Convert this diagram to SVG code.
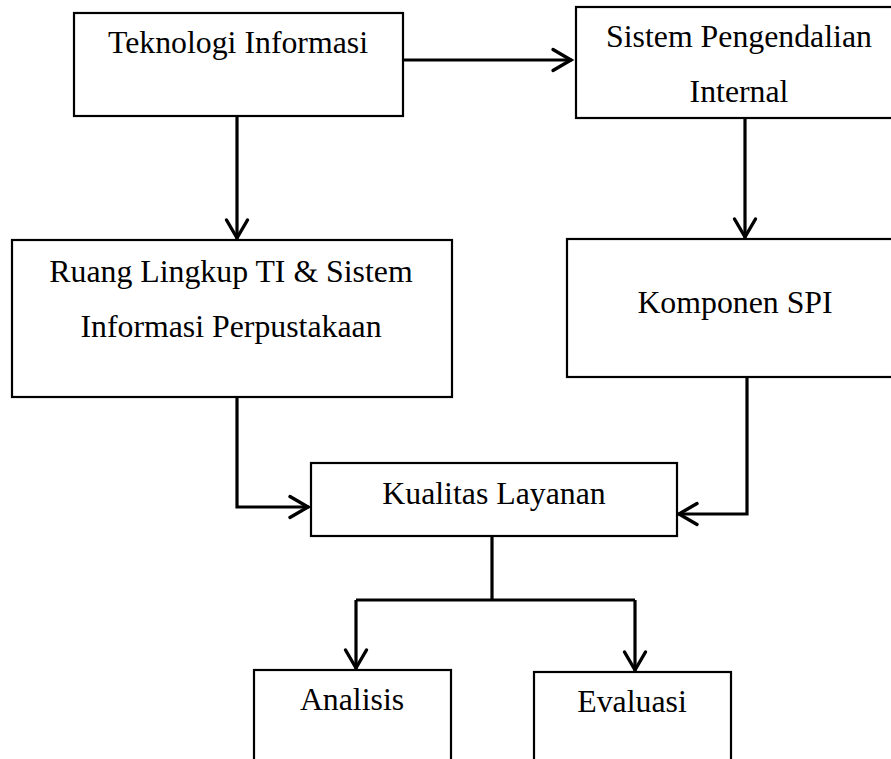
<svg xmlns="http://www.w3.org/2000/svg" width="891" height="759" viewBox="0 0 891 759">
<style>
.box{fill:#fff;stroke:#000;stroke-width:2.2}
.lbl{font-family:"Liberation Serif","Times New Roman",serif;font-size:31.8px;fill:#000;text-anchor:middle}
.con{fill:none;stroke:#000;stroke-width:3.2;stroke-linejoin:miter}
</style>
<defs>
<marker id="arr" markerUnits="userSpaceOnUse" markerWidth="30" markerHeight="30" viewBox="-25 -15 30 30" refX="0" refY="0" orient="auto" overflow="visible">
<path d="M-19,-10.5 L-1,0 L-19,10.5" fill="none" stroke="#000" stroke-width="3.4" stroke-linecap="round" stroke-linejoin="miter"/>
</marker>
</defs>
<rect width="891" height="759" fill="#fff"/>
<g id="connectors">
<path class="con" d="M403,60 H572" marker-end="url(#arr)"/>
<path class="con" d="M237,116 V239" marker-end="url(#arr)"/>
<path class="con" d="M745,118 V238" marker-end="url(#arr)"/>
<path class="con" d="M237,397 V507 H309" marker-end="url(#arr)"/>
<path class="con" d="M747,377 V514 H678" marker-end="url(#arr)"/>
<path class="con" d="M492,537 V600"/>
<path class="con" d="M356,600 H635"/>
<path class="con" d="M356,600 V669" marker-end="url(#arr)"/>
<path class="con" d="M635,600 V671" marker-end="url(#arr)"/>
</g>
<g id="n1">
<rect class="box" x="74" y="13" width="329" height="103"/>
<text class="lbl" x="238" y="53">Teknologi Informasi</text>
</g>
<g id="n2">
<rect class="box" x="576" y="7" width="320" height="111"/>
<text class="lbl" x="739" y="47">Sistem Pengendalian</text>
<text class="lbl" x="739" y="102">Internal</text>
</g>
<g id="n3">
<rect class="box" x="12" y="240" width="440" height="157"/>
<text class="lbl" x="231" y="282">Ruang Lingkup TI &amp; Sistem</text>
<text class="lbl" x="231" y="337">Informasi Perpustakaan</text>
</g>
<g id="n4">
<rect class="box" x="567" y="239" width="330" height="138"/>
<text class="lbl" x="735" y="313">Komponen SPI</text>
</g>
<g id="n5">
<rect class="box" x="311" y="463" width="366" height="73"/>
<text class="lbl" x="494" y="504">Kualitas Layanan</text>
</g>
<g id="n6">
<rect class="box" x="254" y="670" width="197" height="100"/>
<text class="lbl" x="352" y="710">Analisis</text>
</g>
<g id="n7">
<rect class="box" x="534" y="672" width="197" height="100"/>
<text class="lbl" x="632" y="712">Evaluasi</text>
</g>
</svg>
